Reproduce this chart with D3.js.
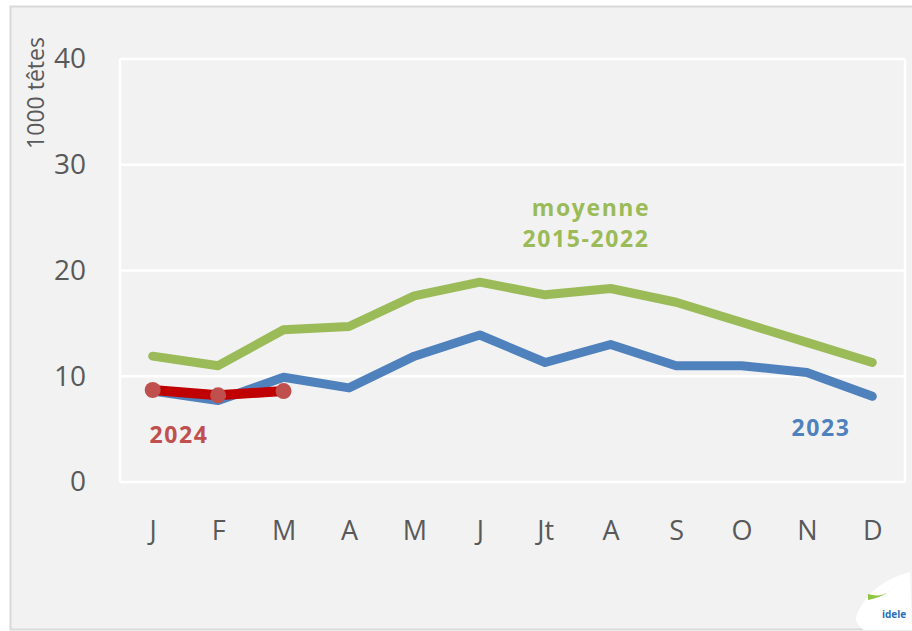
<!DOCTYPE html>
<html>
<head>
<meta charset="utf-8">
<script src="https://cdn.jsdelivr.net/npm/d3@7"></script>
<style>
body{margin:0;background:#fff;}
text{font-family:"Open Sans","Noto Sans",sans-serif;}
</style>
</head>
<body>
<svg id="chart"></svg>
<script>
var months = ["J","F","M","A","M","J","Jt","A","S","O","N","D"];
var moyenne = [11.9,11.0,14.4,14.7,17.6,18.9,17.7,18.3,17.0,15.1,13.2,11.3];
var an2023 = [8.6,7.7,9.9,8.9,11.9,13.9,11.3,13.0,11.0,11.0,10.35,8.1];
var an2024 = [8.7,8.2,8.6];
var yTicks = [0,10,20,30,40];

var screen = {width:912, height:631}
var margins = {left:120, right:7, top:59, bottom:149}
var graph = {
    width:screen.width-margins.left-margins.right,
    height:screen.height-margins.top-margins.bottom
}

var svg = d3.select("#chart")
    .attr("width",screen.width)
    .attr("height",screen.height)

// outer frame
svg.append("rect")
    .attr("x",10.5).attr("y",6.5)
    .attr("width",screen.width).attr("height",623)
    .attr("fill","#f2f2f2")
    .attr("stroke","#d9d9d9")
    .attr("stroke-width",2)

var target = svg.append("g")
    .attr("transform","translate("+margins.left+","+margins.top+")")

var xScale = d3.scalePoint()
    .domain(d3.range(months.length))
    .range([0,graph.width])
    .padding(0.5)

var yScale = d3.scaleLinear()
    .domain([0,40])
    .range([graph.height,0])

// grid + plot border
target.selectAll(".grid")
    .data(yTicks)
    .enter()
    .append("line")
    .attr("x1",0).attr("x2",graph.width)
    .attr("y1",function(d){return yScale(d);})
    .attr("y2",function(d){return yScale(d);})
    .attr("stroke","#ffffff")
    .attr("stroke-width",2.5)

target.append("line")
    .attr("x1",0).attr("x2",0)
    .attr("y1",0).attr("y2",graph.height)
    .attr("stroke","#fff").attr("stroke-width",2.5)
target.append("line")
    .attr("x1",graph.width).attr("x2",graph.width)
    .attr("y1",0).attr("y2",graph.height)
    .attr("stroke","#fff").attr("stroke-width",2.5)

// axes
var yAxis = d3.axisLeft(yScale).tickValues(yTicks).tickSize(0).tickPadding(34)
var yG = target.append("g").call(yAxis)
yG.select(".domain").remove()
yG.selectAll("text")
    .attr("font-size",28)
    .attr("fill","#595959")

var xAxis = d3.axisBottom(xScale).tickSize(0).tickPadding(39)
    .tickFormat(function(i){return months[i];})
var xG = target.append("g")
    .attr("transform","translate(0,"+graph.height+")")
    .call(xAxis)
xG.select(".domain").remove()
xG.selectAll("text")
    .attr("font-size",27)
    .attr("fill","#595959")

// y title
svg.append("text")
    .attr("transform","translate(44,93) rotate(-90)")
    .attr("text-anchor","middle")
    .attr("font-size",23)
    .attr("fill","#595959")
    .text("1000 têtes")

var line = d3.line()
    .x(function(d,i){return xScale(i);})
    .y(function(d){return yScale(d);})

target.append("path")
    .datum(moyenne)
    .attr("d",line)
    .attr("fill","none")
    .attr("stroke","#9bbb59")
    .attr("stroke-width",9)
    .attr("stroke-linecap","round")
    .attr("stroke-linejoin","round")

target.append("path")
    .datum(an2023)
    .attr("d",line)
    .attr("fill","none")
    .attr("stroke","#4f81bd")
    .attr("stroke-width",9)
    .attr("stroke-linecap","round")
    .attr("stroke-linejoin","round")

target.append("path")
    .datum(an2024)
    .attr("d",line)
    .attr("fill","none")
    .attr("stroke","#c00000")
    .attr("stroke-width",10)

target.selectAll(".pt")
    .data(an2024)
    .enter()
    .append("circle")
    .attr("cx",function(d,i){return xScale(i);})
    .attr("cy",function(d){return yScale(d);})
    .attr("r",8)
    .attr("fill","#c0504d")

// series labels
var labels = svg.append("g")
    .attr("font-weight","bold")
    .attr("font-size",23)
    .attr("letter-spacing",1.6)
    .attr("text-anchor","middle")
    .style("font-family","'DejaVu Sans',sans-serif")

labels.append("text").text("moyenne")
    .attr("x",591).attr("y",216).attr("fill","#9bbb59")
labels.append("text").text("2015-2022")
    .attr("x",586).attr("y",247).attr("fill","#9bbb59")
labels.append("text").text("2023")
    .attr("x",821).attr("y",436).attr("fill","#4f81bd")
labels.append("text").text("2024")
    .attr("x",179).attr("y",443).attr("fill","#c0504d")

// logo
var logo = svg.append("g").attr("transform","translate(852,572)")
logo.append("path")
    .attr("d","M6,40 Q20,10 58,0 L60,58 L12,58 Q0,50 6,40 Z")
    .attr("fill","#ffffff")
logo.append("path")
    .attr("d","M16,22 Q35,28 48,8 Q38,24 16,28 Z")
    .attr("fill","#8dc63f")
logo.append("text")
    .attr("x",42).attr("y",46)
    .attr("font-size",10).attr("font-weight","bold")
    .attr("fill","#2a6ebb")
    .attr("text-anchor","middle")
    .text("idele")
</script>
</body>
</html>
